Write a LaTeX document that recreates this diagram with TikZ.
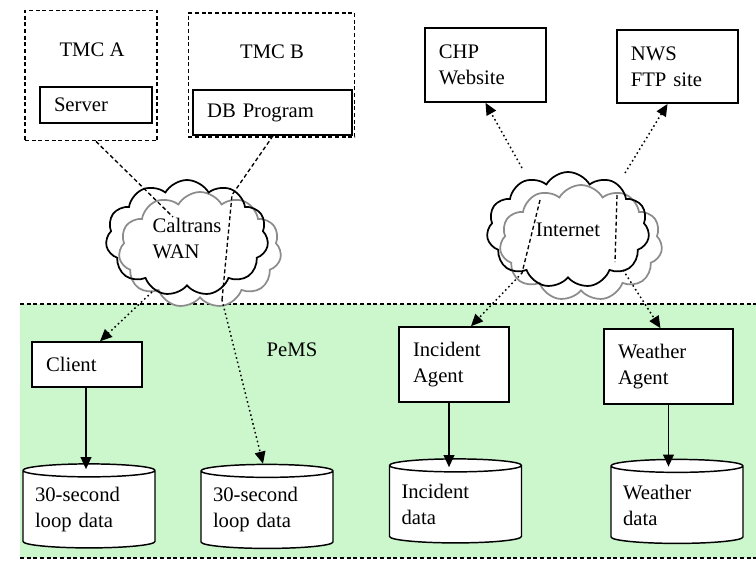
\documentclass[tikz,border=0pt]{standalone}
\usepackage{fontspec}
\setmainfont{Liberation Serif}
\usepackage{xcolor}
\definecolor{pemsgreen}{RGB}{204,246,204}
\definecolor{cloudgray}{RGB}{140,140,140}
\usepackage{tikz}
\usetikzlibrary{shapes.geometric, shapes.symbols, arrows.meta, calc}

\begin{document}
\begin{tikzpicture}[x=0.75pt, y=-0.75pt,
	font=\fontsize{15.5}{19.5}\selectfont,
	box/.style={rectangle, draw=black, line width=1.2pt, fill=white, align=left,
	            inner xsep=10.5pt, inner ysep=0pt},
	tmc/.style={rectangle, draw=black, line width=0.9pt, dash pattern=on 3pt off 2pt},
	store/.style={cylinder, shape border rotate=90, draw=black, line width=1.1pt, fill=white,
	              shape aspect=0.12, align=left, text width=81pt, inner sep=0pt,
	              minimum width=99pt, minimum height=63pt},
	net/.style={cloud, cloud puffs=11, cloud puff arc=120, cloud ignores aspect,
	            line width=1.3pt, minimum width=122pt, minimum height=87pt, align=left},
	inward/.style={draw=black, line width=1pt, dash pattern=on 3pt off 2pt},
	outward/.style={draw=black, line width=1.1pt, dash pattern=on 1.2pt off 2.2pt,
	                -{Triangle[length=9pt, width=8pt]}},
	arr/.style={draw=black, line width=1.2pt, -{Triangle[length=9pt, width=8pt]}}
	]
\useasboundingbox (0,0) rectangle (756,565);

% PeMS area
\fill[pemsgreen] (20,304) rectangle (756,558);
\draw[inward] (20,304) -- (756,304);
\draw[inward] (20,558) -- (756,558);
\node (pems) at (292,350) {PeMS};

% TMCs
\node[tmc, minimum width=99pt, minimum height=98pt] (tmcA) at (91,75.5) {};
\node[tmc, minimum width=125pt, minimum height=93pt] (tmcB) at (271.5,75) {};
\node (tmcAlbl) at (92,50) {TMC A};
\node (tmcBlbl) at (272,52) {TMC B};
\node[box, text width=63pt, minimum height=27pt] (server) at (96,105) {Server};
\node[box, text width=98pt, minimum height=33.75pt] (db) at (272.5,112.5) {DB Program};

% outside sites
\node[box, text width=70pt, minimum height=55.5pt] (chp) at (485.5,65) {CHP\\Website};
\node[box, text width=70pt, minimum height=55pt] (nws) at (677.5,66.5) {NWS\\FTP site};

% networks
\node[net, draw=cloudgray, fill=white] (wanback) at (200,250) {};
\node[net, draw=black] (wan) at (187,238) {Caltrans\\WAN};
\node[net, draw=cloudgray, fill=white] (inetback) at (581,243) {};
\node[net, draw=black] (inet) at (568,230) {Internet};

% PeMS parts
\node[box, text width=61.5pt, minimum height=33.75pt] (client) at (87,364.5) {Client};
\node[box, text width=61.5pt, minimum height=56.25pt] (incident) at (454,364.5) {Incident\\Agent};
\node[box, text width=75.75pt, minimum height=56.25pt] (weather) at (668.5,366.5) {Weather\\Agent};

\node[store] (loopA) at (89,509.5) {30-second\\loop data};
\node[store] (loopB) at (267,510) {30-second\\loop data};
\node[store] (incdata) at (455.5,504.5) {Incident\\data};
\node[store] (wxdata) at (677,505) {Weather\\data};

% routes through the clouds
\coordinate (wanA) at (173,217);
\coordinate (wanC) at (152,292);
\coordinate (wanD) at (232,195);
\coordinate (wanE) at (222,300);
\coordinate (inetA) at (522,168);
\coordinate (inetB) at (540,200);
\coordinate (inetC) at (522,273);
\coordinate (inetD) at (625,173);
\coordinate (inetE) at (617,195);
\coordinate (inetF) at (615,262);
\coordinate (inetG) at (623,270);

\draw[inward] (server |- tmcA.south) -- (wanA);
\draw[outward] (wanC) -- ($(client.north)+(13,0)$);
\draw[inward] ($(db.south)+(0.5,0)$) -- (wanD) -- (wanE);
\draw[outward] (wanE) -- ($(loopB.north)+(-4,0)$);

\draw[outward] (inetA) -- (chp.south);
\draw[inward] (inetB) -- (inetC);
\draw[outward] (inetC) -- ($(incident.north)+(17,0)$);
\draw[outward] (inetD) -- ($(nws.south)+(-10,0)$);
\draw[inward] (inetE) -- (inetF);
\draw[outward] (inetG) -- ($(weather.north)+(-8,0)$);

% storing
\draw[arr] ($(client.south)+(-1,0)$) -- ($(client.south |- loopA.north)+(-1,6)$);
\draw[arr] ($(incident.south)+(-5,0)$) -- ($(incident.south |- incdata.north)+(-5,9)$);
\draw[arr] (weather.south) -- ($(weather.south |- wxdata.north)+(0,8)$);
\end{tikzpicture}
\end{document}
